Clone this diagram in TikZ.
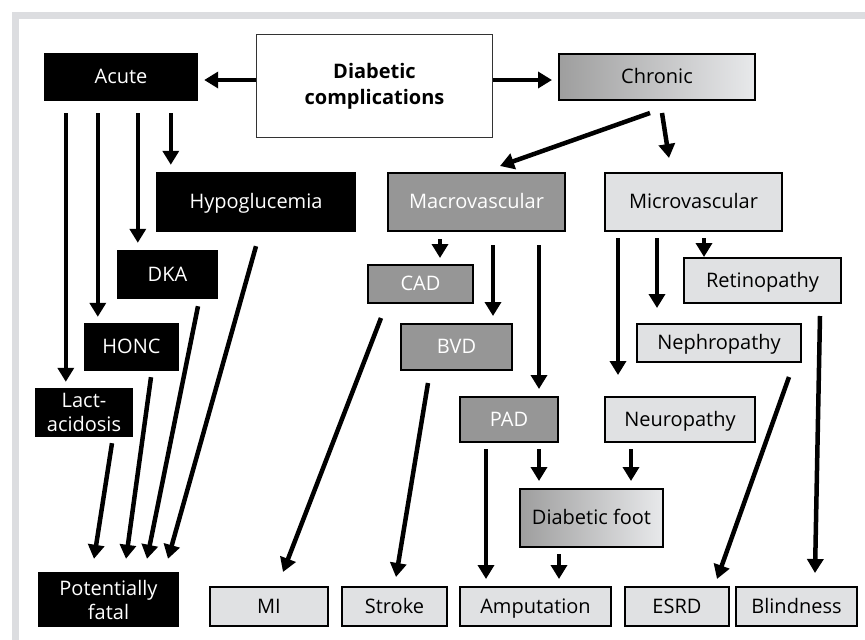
\documentclass[tikz,border=0pt]{standalone}
\usepackage{fontspec}
\setmainfont{Open Sans}
\usepackage{tikz}
\usetikzlibrary{arrows.meta}
\definecolor{framegray}{RGB}{220,221,224}
\definecolor{macgray}{RGB}{150,150,150}
\definecolor{micgray}{RGB}{224,225,227}
\definecolor{graddark}{RGB}{158,158,158}
\definecolor{gradlight}{RGB}{232,233,235}

\begin{document}
\begin{tikzpicture}[x=1pt,y=-1pt,
        >={Triangle[length=14pt,width=16pt]},
        box/.style={rectangle,inner sep=0pt,align=center,font=\fontsize{20}{24}\selectfont},
        onel/.style={text height=16pt,text depth=2.5pt},
        acutebox/.style={box,fill=black,text=white},
        macbox/.style={box,onel,draw=black,line width=2pt,fill=macgray,text=white},
        micbox/.style={box,onel,draw=black,line width=2pt,fill=micgray},
        gradbox/.style={box,onel,draw=black,line width=2pt,left color=graddark,right color=gradlight},
        arr/.style={->,line width=4.5pt}]
        \useasboundingbox (0,0) rectangle (865,640);
        \fill[framegray] (12,12) rectangle (865,19);
        \fill[framegray] (12,12) rectangle (19,640);

        \node[box,draw=black!80,line width=1.2pt,font=\bfseries\fontsize{20}{26}\selectfont,minimum width=236pt,minimum height=103pt] (dc) at (374.5,86) {Diabetic\\complications};
        \node[acutebox,onel,minimum width=154pt,minimum height=48pt] (acute) at (121,77) {Acute};
        \node[gradbox,minimum width=196pt,minimum height=46pt] (chronic) at (657,77) {Chronic};
        \node[acutebox,onel,minimum width=200pt,minimum height=60pt] (hypo) at (256,202) {Hypoglucemia};
        \node[macbox,minimum width=177pt,minimum height=58pt] (macro) at (476.5,202) {Macrovascular};
        \node[micbox,minimum width=177pt,minimum height=58pt] (micro) at (693.5,202) {Microvascular};
        \node[acutebox,onel,minimum width=101pt,minimum height=49pt] (dka) at (167.5,274.5) {DKA};
        \node[macbox,minimum width=105pt,minimum height=38pt] (cad) at (420.5,284) {CAD};
        \node[micbox,minimum width=157pt,minimum height=45pt] (retino) at (762.5,280.5) {Retinopathy};
        \node[acutebox,onel,minimum width=95pt,minimum height=48pt] (honc) at (131.5,347) {HONC};
        \node[macbox,minimum width=111pt,minimum height=46pt] (bvd) at (456.5,347) {BVD};
        \node[micbox,minimum width=164pt,minimum height=38pt] (nephro) at (719,343) {Nephropathy};
        \node[acutebox,minimum width=98pt,minimum height=49pt] (lact) at (84,412.5) {Lact-\\acidosis};
        \node[macbox,minimum width=98pt,minimum height=45pt] (pad) at (509,419.5) {PAD};
        \node[micbox,minimum width=150pt,minimum height=45pt] (neuro) at (680,419.5) {Neuropathy};
        \node[gradbox,minimum width=143pt,minimum height=58pt] (foot) at (591.5,518) {Diabetic foot};
        \node[acutebox,minimum width=141pt,minimum height=55pt] (fatal) at (108.5,599.5) {Potentially\\fatal};
        \node[micbox,minimum width=118pt,minimum height=39pt] (mi) at (269,606.5) {MI};
        \node[micbox,minimum width=105pt,minimum height=39pt] (stroke) at (394.5,606.5) {Stroke};
        \node[micbox,minimum width=151pt,minimum height=39pt] (amp) at (535.5,606.5) {Amputation};
        \node[micbox,minimum width=104pt,minimum height=39pt] (esrd) at (677,606.5) {ESRD};
        \node[micbox,minimum width=121pt,minimum height=39pt] (blind) at (796.5,606.5) {Blindness};

        % top level
        \draw[arr] ([yshift=6pt]dc.west) -- ([xshift=6pt,yshift=-3pt]acute.east);
        \draw[arr] ([yshift=6pt]dc.east) -- ([xshift=-6pt,yshift=-3pt]chronic.west);
        \draw[arr] ([xshift=-7pt,yshift=-12pt]chronic.south) -- ([xshift=23.5pt,yshift=6pt]macro.north);
        \draw[arr] ([xshift=5pt,yshift=-12pt]chronic.south) -- ([xshift=-24.5pt,yshift=14pt]micro.north);

        % acute
        \draw[arr] ([xshift=127pt,yshift=-12pt]acute.south west) -- ([xshift=15pt,yshift=7pt]hypo.north west);
        \draw[arr] ([xshift=94pt,yshift=-12pt]acute.south west) -- ([xshift=21pt,yshift=7pt]dka.north west);
        \draw[arr] ([xshift=54pt,yshift=-12pt]acute.south west) -- ([xshift=14pt,yshift=6pt]honc.north west);
        \draw[arr] ([xshift=22pt,yshift=-12pt]acute.south west) -- ([xshift=31pt,yshift=6pt]lact.north west);
        \draw[arr] ([xshift=28pt,yshift=-6pt]lact.south) -- ([xshift=-14.5pt,yshift=13pt]fatal.north);
        \draw[arr] ([xshift=19.5pt,yshift=-6pt]honc.south) -- ([xshift=17.5pt,yshift=13pt]fatal.north);
        \draw[arr] ([xshift=30.5pt,yshift=-7pt]dka.south) -- ([xshift=38.5pt,yshift=13pt]fatal.north);
        \draw[arr] ([yshift=-14pt]hypo.south) -- ([xshift=59.5pt,yshift=13pt]fatal.north);

        % macrovascular
        \draw[arr] ([xshift=53pt,yshift=-7pt]macro.south west) -- ([xshift=73pt,yshift=6pt]cad.north west);
        \draw[arr] ([xshift=106pt,yshift=-13pt]macro.south west) -- ([xshift=93pt,yshift=7pt]bvd.north west);
        \draw[arr] ([xshift=152pt,yshift=-13pt]macro.south west) -- ([xshift=80pt,yshift=7pt]pad.north west);
        \draw[arr] ([xshift=14pt,yshift=-14pt]cad.south west) -- ([xshift=14pt,yshift=14pt]mi.north);
        \draw[arr] ([xshift=28pt,yshift=-12pt]bvd.south west) -- ([xshift=1.5pt,yshift=9pt]stroke.north);
        \draw[arr] ([xshift=27pt,yshift=-6pt]pad.south west) -- ([xshift=27pt,yshift=7pt]amp.north west);
        \draw[arr] ([xshift=80pt,yshift=-6pt]pad.south west) -- ([xshift=20pt,yshift=7pt]foot.north west);

        % microvascular
        \draw[arr] ([xshift=14pt,yshift=-6pt]micro.south west) -- ([xshift=14pt,yshift=21pt]neuro.north west);
        \draw[arr] ([xshift=53pt,yshift=-6pt]micro.south west) -- ([xshift=21pt,yshift=15pt]nephro.north west);
        \draw[arr] ([xshift=100pt,yshift=-6pt]micro.south west) -- ([xshift=21pt]retino.north west);
        \draw[arr] ([xshift=27pt,yshift=-6pt]neuro.south west) -- ([xshift=112pt,yshift=7pt]foot.north west);
        \draw[arr] ([xshift=40pt,yshift=-6pt]foot.south west) -- ([xshift=100pt,yshift=7pt]amp.north west);
        \draw[arr] ([xshift=153pt,yshift=-14pt]nephro.south west) -- ([xshift=40pt,yshift=7pt]esrd.north);
        \draw[arr] ([xshift=137pt,yshift=-12pt]retino.south west) -- ([xshift=18.5pt,yshift=13pt]blind.north);
    \end{tikzpicture}
\end{document}
